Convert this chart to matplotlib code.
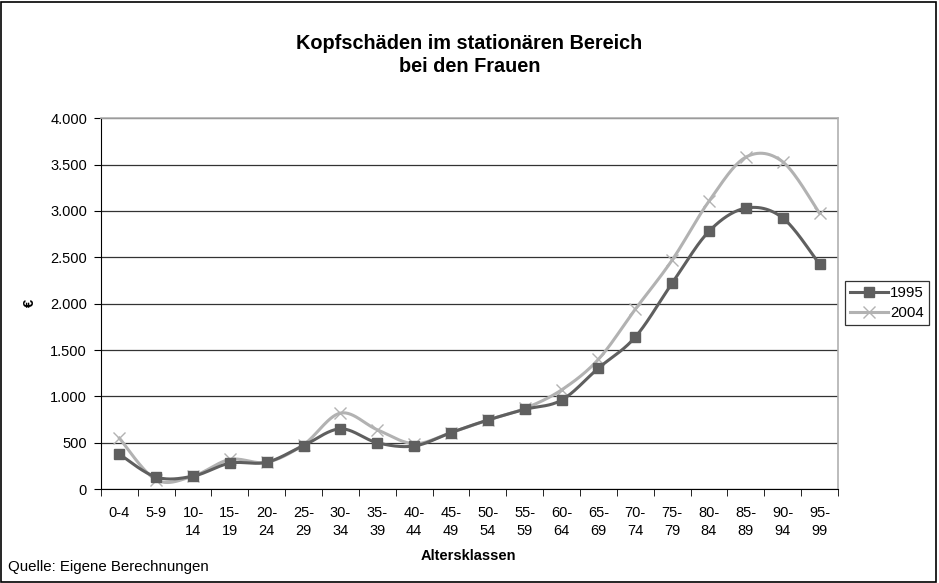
import numpy as np
import matplotlib
matplotlib.use("Agg")
import matplotlib.pyplot as plt
from matplotlib.ticker import FuncFormatter
from matplotlib.lines import Line2D

plt.rcParams['font.family'] = ['Liberation Sans', 'DejaVu Sans']

categories = ["0-4", "5-9", "10-\n14", "15-\n19", "20-\n24", "25-\n29", "30-\n34", "35-\n39",
              "40-\n44", "45-\n49", "50-\n54", "55-\n59", "60-\n64", "65-\n69", "70-\n74",
              "75-\n79", "80-\n84", "85-\n89", "90-\n94", "95-\n99"]
values_1995 = [377, 130, 140, 280, 290, 470, 650, 500, 465, 610, 745, 860, 960, 1305,
               1640, 2220, 2780, 3030, 2925, 2425]
values_2004 = [550, 100, 140, 320, 290, 480, 820, 640, 490, 610, 745, 870, 1070, 1400,
               1940, 2470, 3105, 3580, 3530, 2975]
yticks = [0, 500, 1000, 1500, 2000, 2500, 3000, 3500, 4000]


def smooth(x, y, n=30):
    # Catmull-Rom style Bezier smoothing (as in spreadsheet "smoothed line")
    x = np.asarray(x, float); y = np.asarray(y, float)
    px = np.concatenate([[x[0]], x, [x[-1]]])
    py = np.concatenate([[y[0]], y, [y[-1]]])
    xs, ys = [], []
    t = np.linspace(0, 1, n)
    for i in range(1, len(px) - 2):
        p0 = np.array([px[i], py[i]]); p3 = np.array([px[i + 1], py[i + 1]])
        p1 = p0 + (np.array([px[i + 1], py[i + 1]]) - np.array([px[i - 1], py[i - 1]])) / 6
        p2 = p3 - (np.array([px[i + 2], py[i + 2]]) - np.array([px[i], py[i]])) / 6
        b = ((1 - t) ** 3)[:, None] * p0 + (3 * (1 - t) ** 2 * t)[:, None] * p1 + \
            (3 * (1 - t) * t ** 2)[:, None] * p2 + (t ** 3)[:, None] * p3
        xs.extend(b[:, 0]); ys.extend(b[:, 1])
    return np.array(xs), np.array(ys)


fig = plt.figure(figsize=(9.39, 5.83), dpi=100)
fig.patch.set_facecolor('white')
fig.add_artist(plt.Rectangle((0.001, 0.002), 0.996, 0.995, transform=fig.transFigure,
                             fill=False, edgecolor='black', linewidth=1.2))

ax = fig.add_axes([0.1075, 0.161, 0.7849, 0.6363])
x = np.arange(len(categories))

c95 = '#5f5f5f'
c04 = '#b2b2b2'

sx, sy = smooth(x, values_2004)
ax.plot(sx, sy, color=c04, linewidth=2.2, zorder=3)
ax.plot(x, values_2004, linestyle='none', marker='x', markersize=9, color=c04,
        markeredgewidth=1.0, zorder=4)
sx, sy = smooth(x, values_1995)
ax.plot(sx, sy, color=c95, linewidth=2.2, zorder=5)
ax.plot(x, values_1995, linestyle='none', marker='s', markersize=7.5, color=c95, zorder=6)

h1 = Line2D([], [], color=c95, linewidth=2.2, marker='s', markersize=7)
h2 = Line2D([], [], color=c04, linewidth=2.2, marker='x', markersize=9, markeredgewidth=1.0)
leg = fig.legend([h1, h2], ['1995', '2004'], loc='center left',
                 bbox_to_anchor=(0.900, 0.480), frameon=True, fancybox=False,
                 edgecolor='black', fontsize=10.8, handlelength=2.5, handletextpad=0.15,
                 borderpad=0.35, labelspacing=0.4, borderaxespad=0)
leg.get_frame().set_linewidth(0.9)

ax.set_xlim(-0.5, len(categories) - 0.5)
ax.set_ylim(0, 4000)
ax.set_yticks(yticks)
ax.yaxis.set_major_formatter(FuncFormatter(lambda v, p: f"{int(v):,}".replace(",", ".")))
ax.grid(axis='y', color='#333333', linewidth=0.9, zorder=0)
ax.set_axisbelow(True)

ax.set_xticks(x)
ax.set_xticklabels(categories, fontsize=10.5, linespacing=1.35, va='top')
ax.set_xticks(np.arange(-0.5, len(categories)), minor=True)
ax.tick_params(axis='x', which='major', length=0, pad=12)
ax.tick_params(axis='x', which='minor', length=5, direction='out', color='black')
ax.tick_params(axis='y', length=5, direction='out', labelsize=10.5, pad=5)

for s in ['top', 'right']:
    ax.spines[s].set_color('#b0b0b0')
    ax.spines[s].set_linewidth(1.2)
ax.spines['left'].set_color('black')
ax.spines['bottom'].set_color('black')

fig.text(0.5, 0.926, "Kopfschäden im stationären Bereich", ha='center', va='center',
         fontsize=14.3, fontweight='bold')
fig.text(0.5, 0.886, "bei den Frauen", ha='center', va='center',
         fontsize=14.3, fontweight='bold')
fig.text(0.032, 0.481, "€", rotation=90, ha='center', va='center', fontsize=10.5,
         fontweight='bold')
fig.text(0.499, 0.046, "Altersklassen", ha='center', va='center', fontsize=10.5,
         fontweight='bold')
fig.text(0.008, 0.027, "Quelle: Eigene Berechnungen", ha='left', va='center', fontsize=10.8)

fig.savefig("out.png", dpi=100)
